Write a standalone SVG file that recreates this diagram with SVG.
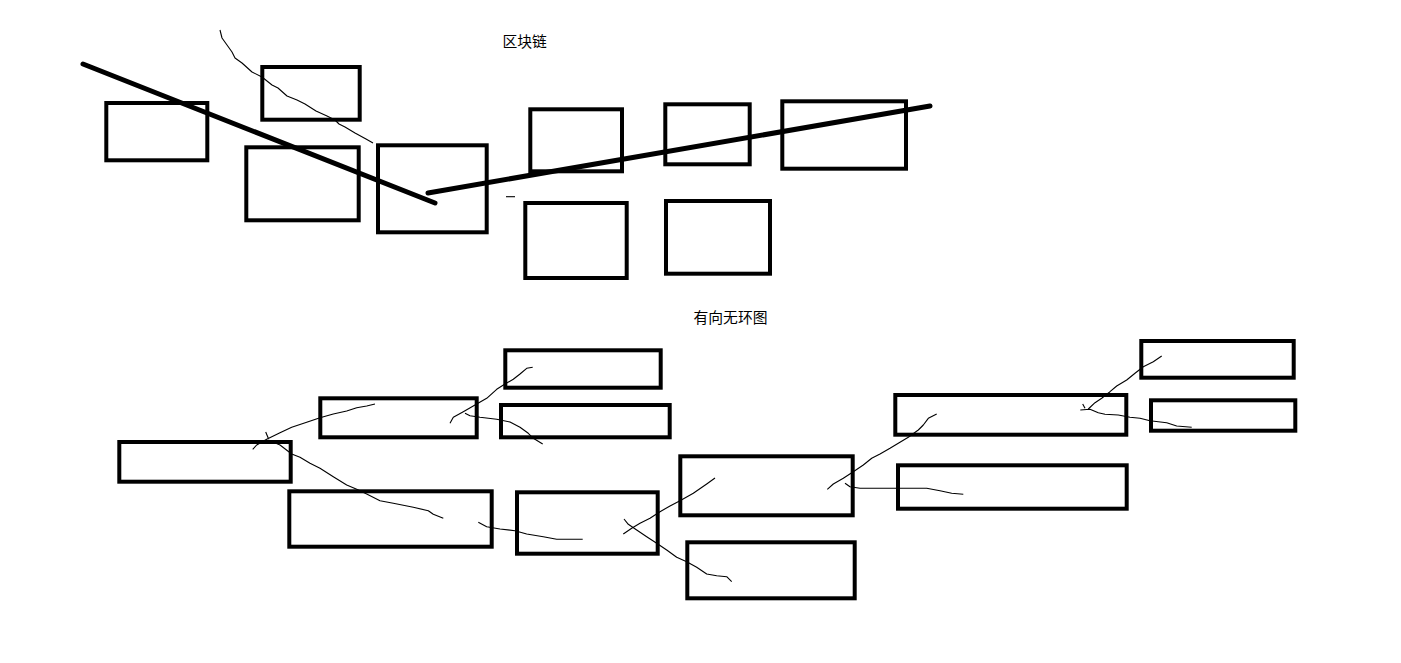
<svg xmlns="http://www.w3.org/2000/svg" width="1401" height="663" viewBox="0 0 1401 663">
<style>
.box{fill:none;stroke:#000;stroke-width:4}
.thick{fill:none;stroke:#000;stroke-width:5;stroke-linecap:round}
.thin{fill:none;stroke:#000;stroke-width:1.1;stroke-linejoin:round}
.t{font-family:"Noto Sans CJK SC","Noto Sans",sans-serif;font-size:14.8px;fill:#000}
</style>
<rect width="1401" height="663" fill="#fff"/>
<text class="t" x="502.5" y="46.8">区块链</text>
<text class="t" x="693.5" y="323.2">有向无环图</text>
<g id="chain-nodes">
<g id="b1"><rect class="box" x="106.3" y="103" width="101" height="57.3"/></g>
<g id="b2"><rect class="box" x="262.3" y="67" width="97.4" height="52.7"/></g>
<g id="b3"><rect class="box" x="246.3" y="147.3" width="112.4" height="73"/></g>
<g id="b4"><rect class="box" x="378" y="145.3" width="108.7" height="87"/></g>
<g id="b5"><rect class="box" x="530.3" y="109.3" width="91.7" height="62"/></g>
<g id="b6"><rect class="box" x="665.3" y="104.3" width="84.4" height="60"/></g>
<g id="b7"><rect class="box" x="782.3" y="101.3" width="123.7" height="67.4"/></g>
<g id="b8"><rect class="box" x="525.3" y="203" width="101.4" height="75"/></g>
<g id="b9"><rect class="box" x="666" y="201" width="104" height="72.7"/></g>
</g>
<g id="dag-nodes">
<g id="d1"><rect class="box" x="119.3" y="442" width="171.4" height="39.7"/></g>
<g id="d2"><rect class="box" x="320.3" y="398.3" width="156.4" height="39"/></g>
<g id="d3"><rect class="box" x="289.3" y="491.3" width="202.4" height="55.4"/></g>
<g id="d4"><rect class="box" x="505.3" y="350.3" width="155.4" height="37.4"/></g>
<g id="d5"><rect class="box" x="501" y="405" width="168.7" height="32.3"/></g>
<g id="d6"><rect class="box" x="517" y="492.3" width="140.7" height="61.4"/></g>
<g id="d7"><rect class="box" x="680.3" y="456.3" width="172.4" height="59"/></g>
<g id="d8"><rect class="box" x="687.3" y="542.3" width="167.4" height="56"/></g>
<g id="d9"><rect class="box" x="895.3" y="395" width="231" height="39.7"/></g>
<g id="d10"><rect class="box" x="898" y="465.3" width="228.7" height="43.4"/></g>
<g id="d11"><rect class="box" x="1141.3" y="341" width="152.4" height="36.7"/></g>
<g id="d12"><rect class="box" x="1151" y="400.3" width="144.3" height="30.4"/></g>
</g>
<g id="connectors">
<line class="thick" x1="83" y1="64" x2="435" y2="203"/>
<line class="thick" x1="428" y1="193" x2="930" y2="106"/>
<polyline class="thin" points="220,30 222,38 227,45 232,52 235,58 242,63 252,72 262,77 272,85 278,88 287,96 297,100 305,104 316,111 327,116 335,120 339,124 345,127 355,133 366,139 373,143"/>
<line class="thin" x1="506" y1="196.7" x2="515" y2="196.7"/>
<polyline class="thin" points="375,404 366.7,406 356.7,407.7 346.7,411 333.3,414 320,417.7 306.7,422.3 291.7,427.3 280,432.7 266.7,439.3 256.7,445 252.7,449.3"/>
<polyline class="thin" points="265.7,432 268.3,438.3"/>
<polyline class="thin" points="268.3,440 280,445 291.7,454 300,457.3 310,463.3 320,468.3 333.3,476.7 346.7,485 356.7,489.3 366.7,494 380,500.7 393.3,503.3 413.3,507.3 428.3,510.7 433.3,514.3 443.3,518.3"/>
<polyline class="thin" points="450,423.3 453.3,417.3 463.3,411.7 476.7,404 486.7,398.3 496.7,389.3 505,384 513.3,379.3 520,374 526.7,368.3 532.7,367.3"/>
<polyline class="thin" points="465,413.3 470,415.7 480,417.3 496.7,419.3 510,422 520,427.3 528.3,433.3 533.3,438.3 542.7,444"/>
<polyline class="thin" points="478.3,522.3 486.7,526.7 500,529 515,530.7 526.7,534 543.3,536.7 556.7,539.3 582.7,539.3"/>
<polyline class="thin" points="623.3,534 631.7,528.3 640,523.3 650,518.3 660,511.7 670,506 680,500.7 693.3,493.3 706.7,484 715,478"/>
<polyline class="thin" points="624,519 628.3,524.3 636.7,530 646.7,536.7 656.7,543.3 666.7,550 676.7,557.3 686.7,561.7 696.7,567.3 706.7,574 716.7,575.7 726.7,576.7 731.7,581.7"/>
<polyline class="thin" points="827.3,489.3 833.3,484 843.3,478.3 853.3,471.7 863.3,465 871.7,458.3 880,454 890,448.3 898.3,443.3 908.3,437.3 918.3,430 923.3,425 928.3,418.3 936.7,414"/>
<polyline class="thin" points="845,483.3 850,486.7 860,488.3 926.7,488.3 940,490.7 951.7,493.3 963.3,494.3"/>
<polyline class="thin" points="1161.7,356 1153.3,361.7 1143.3,366.7 1135,373.3 1126.7,380 1116.7,386 1110,391.7 1101.7,398.3 1095,402.7 1088.3,409"/>
<polyline class="thin" points="1082.7,404 1085,408.3"/>
<polyline class="thin" points="1080.3,410 1090,409.3 1098.3,412.7 1105,414.3 1118.3,415 1130,417.3 1140,418.3 1150,420.7 1166.7,422.7 1176.7,426 1191.7,427.3"/>
</g>
</svg>
